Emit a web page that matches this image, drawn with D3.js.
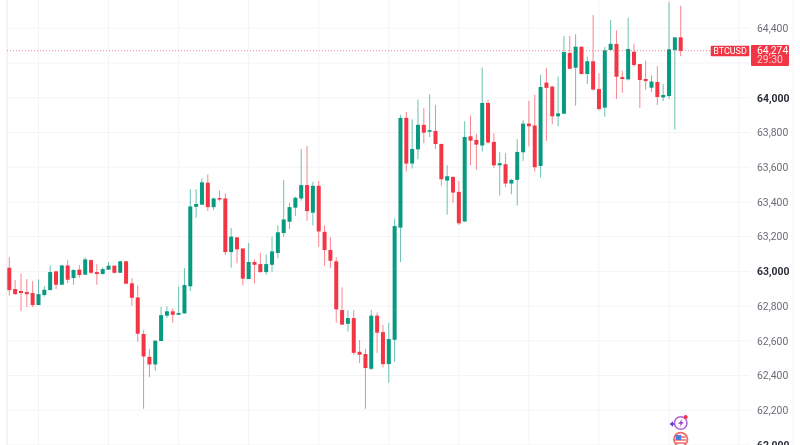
<!DOCTYPE html>
<meta charset="utf-8">
<style>
  html, body { margin: 0; padding: 0; background: #fff; overflow: hidden; }
  text { font-family: Roboto, sans-serif; }
  svg { filter: blur(0.3px); }
</style>
<body>
<div id="chart"></div>

<!-- Load d3.js -->
<script src="https://d3js.org/d3.v7.min.js"></script>
<script>

// Candles, one entry per bar, oldest first
var opens = [63021,62898,62887,62881,62875,62806,62864,62892,63000,62923,63034,62962,63010,62981,63065,62996,62985,63010,63033,62992,
  63058,62931,62850,62639,62508,62464,62599,62745,62770,62750,62758,62914,63372,63384,63511,63370,63422,63420,63111,63196,
  63132,62956,63054,63042,62996,63038,63106,63221,63286,63367,63420,63497,63338,63493,63228,63123,63058,62777,62698,62731,
  62537,62524,62439,62745,62650,62466,62606,63252,63884,63621,63703,63844,63805,63809,63734,63523,63544,63458,63287,63778,
  63757,63725,63970,63746,63611,63617,63506,63527,63686,63851,63840,63607,64087,64064,63893,63908,64258,64173,64294,64137,
  64210,64050,63943,64275,64310,64119,64106,64265,64194,64108,64058,64091,64002,64010,64275,64348];
var highs = [63081,62950,62988,62956,62944,62954,62915,63034,63002,63038,63065,63011,63036,63081,63069,63042,63023,63054,63034,63061,
  63059,62960,62919,62662,62553,62602,62796,62798,62787,62912,63019,63474,63474,63536,63559,63424,63465,63451,63250,63196,
  63132,63163,63069,63106,63098,63200,63265,63526,63394,63430,63705,63722,63516,63520,63265,63196,63082,62908,62777,62777,
  62604,62553,62777,62764,62691,62704,63305,63901,63918,63876,63990,63941,64020,63959,63734,63611,63548,63519,63865,63897,
  63792,64174,63988,63796,63686,63682,63531,63761,63870,63982,64018,64132,64172,64068,64123,64356,64356,64365,64294,64237,
  64477,64141,64292,64448,64388,64156,64461,64311,64194,64214,64129,64181,64079,64551,64348,64530];
var lows = [62860,62864,62770,62793,62794,62806,62854,62892,62898,62923,62933,62923,62963,62981,62985,62923,62981,63008,62988,62992,
  62927,62802,62595,62209,62391,62428,62599,62733,62704,62750,62758,62887,63309,63384,63347,63353,63405,63094,63021,63046,
  62919,62956,62931,62992,62981,62996,63075,63200,63244,63319,63407,63292,63265,63142,63033,63019,62704,62693,62654,62518,
  62472,62209,62432,62531,62447,62359,62478,63054,63575,63592,63646,63738,63774,63705,63494,63327,63396,63266,63287,63611,
  63584,63690,63736,63596,63437,63486,63444,63379,63636,63719,63575,63540,63751,63847,63835,63908,64164,63954,64133,64079,
  64041,63926,63891,64275,63993,64029,64100,64177,63941,64045,64033,63958,63981,63993,63816,64239];
var closes = [62892,62869,62875,62869,62806,62869,62894,62996,62923,63034,62952,63008,62979,63069,62992,62985,63013,63033,62992,63058,
  62929,62848,62641,62510,62464,62601,62748,62770,62750,62760,62921,63374,63388,63513,63370,63420,63415,63111,63200,63127,
  62958,63054,63038,62996,63042,63115,63225,63299,63370,63424,63497,63347,63493,63230,63123,63061,62781,62693,62731,62531,
  62520,62443,62745,62647,62466,62610,63261,63884,63621,63705,63844,63799,63813,63734,63531,63548,63454,63277,63774,63753,
  63730,63970,63742,63611,63623,63506,63527,63688,63851,63836,63600,64062,64057,63893,63910,64263,64167,64294,64137,64210,
  64047,63935,64273,64311,64121,64108,64281,64189,64102,64096,64093,64004,64016,64279,64348,64270];

// Price axis
var priceTicks = [62000,62200,62400,62600,62800,63000,63200,63400,63600,63800,64000,64200,64400];
var boldTicks = [62000,63000,64000];
var hiddenTicks = [64200]; // covered by the last price label
var gridBars = [5,17,29,41,53,65,77,89,101,113,125];

var symbol = "BTCUSD";
var lastPrice = 64274;
var countdown = "29:30";

var upColor = "#089981", downColor = "#f23645";

var width = 800, height = 445;

var svg = d3.select("#chart")
  .append("svg")
    .attr("width", width)
    .attr("height", height)
    .style("display", "block");

var x = d3.scaleLinear().domain([0, 115]).range([9.3, 680.7]);
var y = d3.scaleLinear().domain([62000, 64400]).range([445, 28.3]);

var plotLeft = 7, plotRight = 750;

// Grid
svg.append("g").selectAll("line")
  .data(priceTicks)
  .join("line")
    .attr("x1", plotLeft).attr("x2", plotRight)
    .attr("y1", function(d) { return y(d); })
    .attr("y2", function(d) { return y(d); })
    .attr("stroke", "#f3f4f6");

svg.append("g").selectAll("line")
  .data(gridBars)
  .join("line")
    .attr("x1", function(d) { return x(d); })
    .attr("x2", function(d) { return x(d); })
    .attr("y1", 0).attr("y2", height)
    .attr("stroke", "#f3f4f6");

// Left edge of the chart pane and right edge of the price scale
svg.append("line").attr("x1", plotLeft).attr("x2", plotLeft).attr("y1", 0).attr("y2", height)
  .attr("stroke", "#f3f4f6").attr("stroke-width", 2);
svg.append("line").attr("x1", 793).attr("x2", 793).attr("y1", 0).attr("y2", height)
  .attr("stroke", "#f5f5f6");

// Candles
var bars = d3.range(opens.length);
var colorOf = function(i) { return closes[i] >= opens[i] ? upColor : downColor; };

svg.append("g").selectAll("line")
  .data(bars)
  .join("line")
    .attr("x1", function(i) { return x(i); })
    .attr("x2", function(i) { return x(i); })
    .attr("y1", function(i) { return y(highs[i]); })
    .attr("y2", function(i) { return y(lows[i]); })
    .attr("stroke", colorOf)
    .attr("stroke-opacity", 0.6)
    .attr("stroke-width", 1);

svg.append("g").selectAll("rect")
  .data(bars)
  .join("rect")
    .attr("x", function(i) { return x(i) - 2; })
    .attr("width", 4)
    .attr("y", function(i) { return y(Math.max(opens[i], closes[i])); })
    .attr("height", function(i) { return Math.max(1.5, Math.abs(y(opens[i]) - y(closes[i]))); })
    .attr("fill", colorOf);

// Last price line
svg.append("line")
  .attr("x1", plotLeft).attr("x2", 710)
  .attr("y1", y(lastPrice) + 0.5).attr("y2", y(lastPrice) + 0.5)
  .attr("stroke", downColor)
  .attr("stroke-opacity", 0.6)
  .attr("stroke-dasharray", "1,2");

// Price axis labels
var axis = svg.append("g")
  .attr("transform", "translate(757,0)")
  .call(d3.axisRight(y)
    .tickValues(priceTicks.filter(function(d) { return hiddenTicks.indexOf(d) < 0; }))
    .tickFormat(d3.format(","))
    .tickSize(0)
    .tickPadding(0));
axis.select(".domain").remove();
axis.selectAll("text")
  .style("font-family", "Roboto, sans-serif")
  .style("font-size", "10.4px")
  .style("fill", function(d) { return boldTicks.indexOf(d) >= 0 ? "#2a2e39" : "#6a6d78"; })
  .style("font-weight", function(d) { return boldTicks.indexOf(d) >= 0 ? 700 : 400; });

// Symbol and price labels
var labelY = y(lastPrice);
svg.append("rect").attr("x", 710.7).attr("y", 45.7).attr("width", 38.6).attr("height", 10.5).attr("rx", 1).attr("fill", downColor);
svg.append("text").attr("x", 730).attr("y", labelY + 3.6).attr("text-anchor", "middle")
  .attr("fill", "#fff").style("font-size", "9px").text(symbol);
svg.append("rect").attr("x", 751).attr("y", 45).attr("width", 38).attr("height", 21).attr("rx", 1).attr("fill", downColor);
svg.append("text").attr("x", 757).attr("y", labelY + 3.8).attr("fill", "#fff").style("font-size", "10.4px").text(d3.format(",")(lastPrice));
svg.append("text").attr("x", 757).attr("y", labelY + 13.3).attr("fill", "#fff").attr("fill-opacity", 0.75).style("font-size", "10.4px").text(countdown);

// Event icons under the bars
var icons = svg.append("g").attr("transform", "translate(" + x(115) + ",0)");
var bolt = icons.append("g").attr("transform", "translate(0,423)");
bolt.append("circle").attr("r", 6.3).attr("fill", "#fff").attr("stroke", "#b565d8").attr("stroke-width", 1.6);
bolt.append("path").attr("d", "M1.5,-4 L-2.5,0.8 L0,0.8 L-1,4 L3,-1 L0.5,-1 Z").attr("fill", "#9c3fc9");
bolt.append("circle").attr("cx", 5).attr("cy", -6).attr("r", 2).attr("fill", "#f23645");
bolt.append("path").attr("d", "M-8.5,-2 L-7.5,0 L-5.5,1 L-7.5,2 L-8.5,4 L-9.5,2 L-11.5,1 L-9.5,0 Z").attr("fill", "#5b3fd6");
var flag = icons.append("g").attr("transform", "translate(0,439.5)");
flag.append("circle").attr("r", 6.8).attr("fill", "#fff").attr("stroke", "#ef6a6a").attr("stroke-width", 1.8);
flag.append("path").attr("d", "M-5,-2.5 H5 M-5.5,0.5 H5.5 M-5,3.5 H5").attr("stroke", "#f0696b").attr("stroke-width", 1.5);
flag.append("rect").attr("x", -5).attr("y", -4.5).attr("width", 5.5).attr("height", 5).attr("fill", "#4a7fdc");

</script>
</body>
